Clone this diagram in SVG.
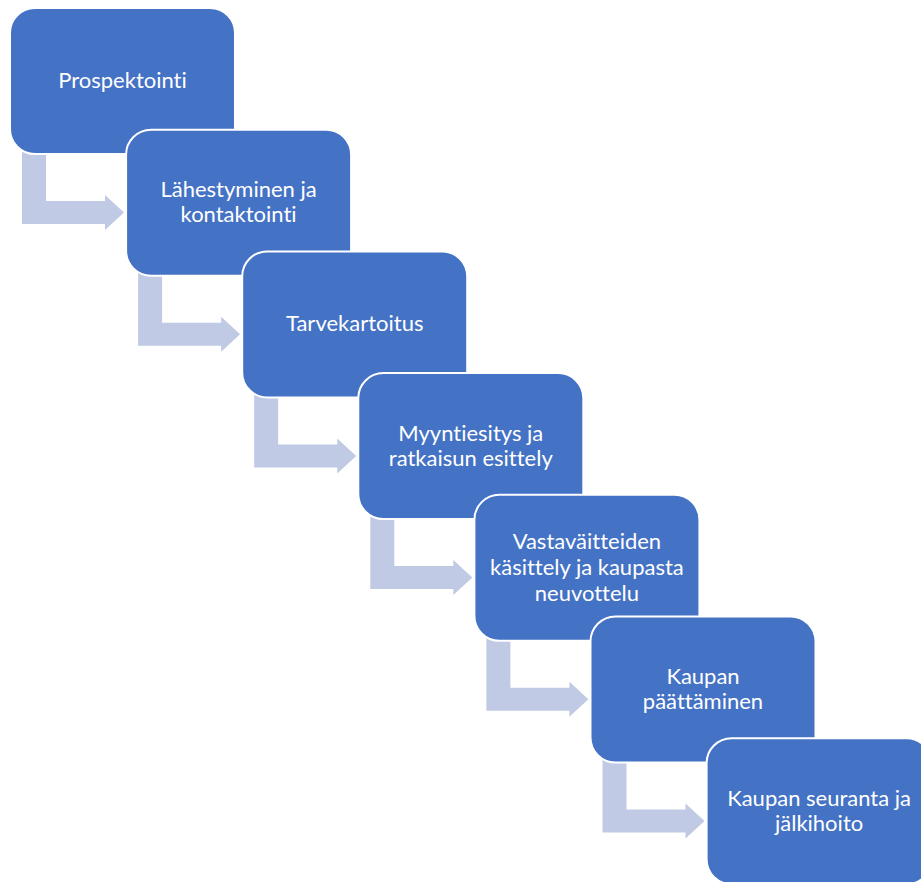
<svg xmlns="http://www.w3.org/2000/svg" xmlns:xlink="http://www.w3.org/1999/xlink" width="921" height="882" viewBox="0 0 921 882">
<style>
.box{fill:#4472C4;stroke:#FFFFFF;stroke-width:2}
.lbl{fill:#FFFFFF;font-family:Lato,"Open Sans","Liberation Sans",sans-serif;font-size:22px;text-anchor:middle;font-variant-ligatures:none}
.arr{fill:#C0CAE4}
</style>
<defs>
<path id="bent" d="M12,140 L36,140 L36,193 L95,193 L95,187 L114,204.5 L95,222 L95,216 L12,216 Z"/>
</defs>
<rect width="921" height="882" fill="#FFFFFF"/>
<g id="connectors" class="arr">
<use xlink:href="#bent" transform="translate(10,8)"/>
<use xlink:href="#bent" transform="translate(126.1,129.7)"/>
<use xlink:href="#bent" transform="translate(242.2,251.4)"/>
<use xlink:href="#bent" transform="translate(358.3,373.1)"/>
<use xlink:href="#bent" transform="translate(474.4,494.8)"/>
<use xlink:href="#bent" transform="translate(590.5,616.5)"/>
</g>
<g id="node1"><rect class="box" x="10" y="8" width="225" height="146" rx="25"/><text class="lbl" x="122.5" y="88">Prospektointi</text></g>
<g id="node2"><rect class="box" x="126.1" y="129.7" width="225" height="146" rx="25"/><text class="lbl" x="238.6" y="197">Lähestyminen ja</text><text class="lbl" x="238.6" y="222">kontaktointi</text></g>
<g id="node3"><rect class="box" x="242.2" y="251.4" width="225" height="146" rx="25"/><text class="lbl" x="354.7" y="331.4">Tarvekartoitus</text></g>
<g id="node4"><rect class="box" x="358.3" y="373.1" width="225" height="146" rx="25"/><text class="lbl" x="470.8" y="440.6">Myyntiesitys ja</text><text class="lbl" x="470.8" y="465.6">ratkaisun esittely</text></g>
<g id="node5"><rect class="box" x="474.4" y="494.8" width="225" height="146" rx="25"/><text class="lbl" x="586.9" y="549">Vastaväitteiden</text><text class="lbl" x="586.9" y="575">käsittely ja kaupasta</text><text class="lbl" x="586.9" y="601">neuvottelu</text></g>
<g id="node6"><rect class="box" x="590.5" y="616.5" width="225" height="146" rx="25"/><text class="lbl" x="703" y="684">Kaupan</text><text class="lbl" x="703" y="709">päättäminen</text></g>
<g id="node7"><rect class="box" x="706.6" y="738.2" width="225" height="146" rx="25"/><text class="lbl" x="819.1" y="805.7">Kaupan seuranta ja</text><text class="lbl" x="819.1" y="830.7">jälkihoito</text></g>
</svg>
